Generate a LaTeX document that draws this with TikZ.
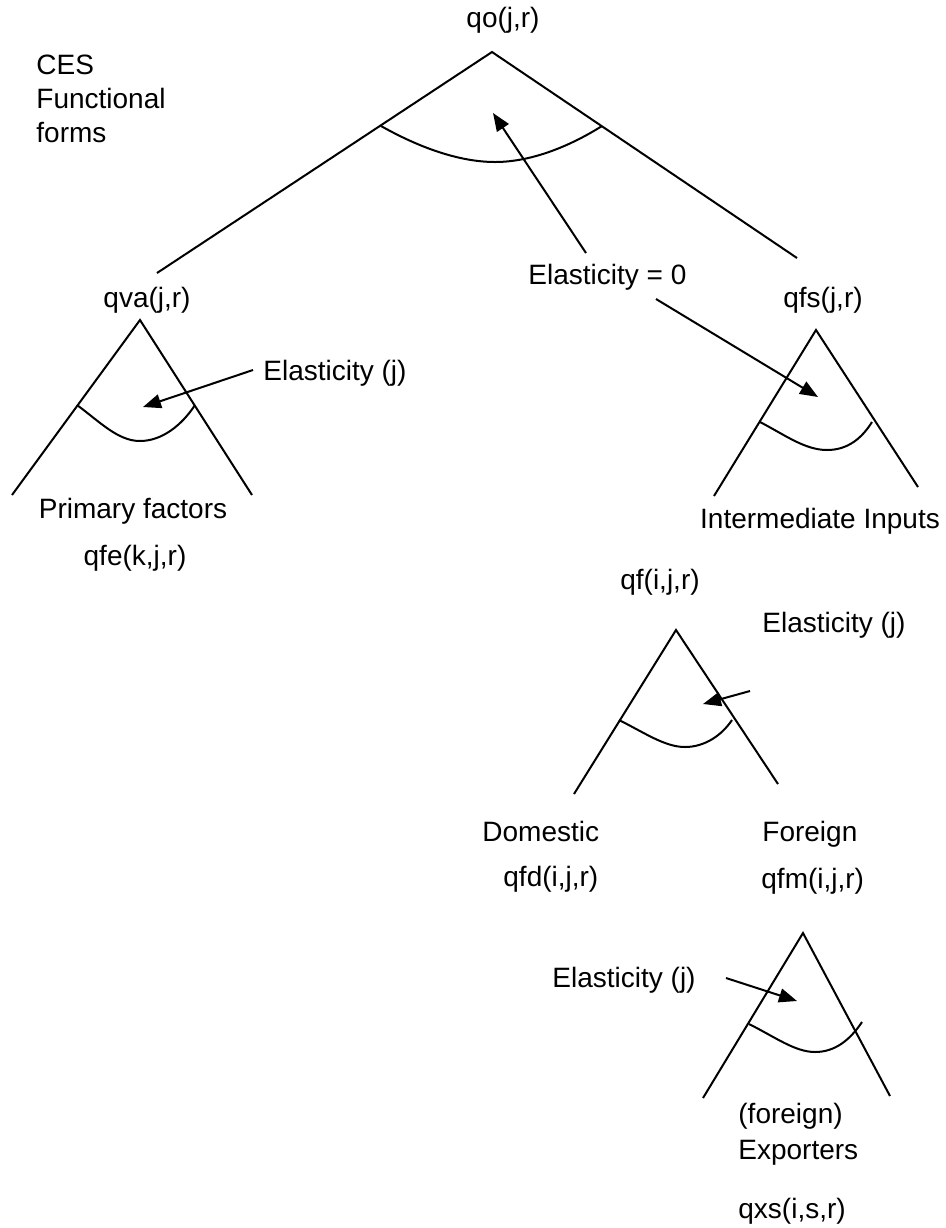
\documentclass[tikz,border=0pt]{standalone}
\usepackage{fontspec}
\setmainfont{Liberation Sans}
\usetikzlibrary{arrows.meta}
\begin{document}
\begin{tikzpicture}[x=0.5pt,y=-0.5pt,
  lbl/.style={inner sep=0pt,font=\fontsize{14pt}{17pt}\selectfont},
  tri/.style={line width=1pt,line join=miter},
  arc/.style={line width=1pt},
  arr/.style={line width=1pt,-{Triangle[length=9pt,width=7pt]}}]
\useasboundingbox (0,0) rectangle (946,1228);
% labels
\node[lbl,anchor=base] (qo) at (503,27) {qo(j,r)};
\node[lbl,anchor=base west] (ces1) at (36,74) {CES};
\node[lbl,anchor=base west] (ces2) at (36,108) {Functional};
\node[lbl,anchor=base west] (ces3) at (36,142) {forms};
\node[lbl,anchor=base west] (e0) at (528,284) {Elasticity = 0};
\node[lbl,anchor=base] (qva) at (147,307) {qva(j,r)};
\node[lbl,anchor=base] (qfs) at (823,307) {qfs(j,r)};
\node[lbl,anchor=base west] (ej1) at (263,380) {Elasticity (j)};
\node[lbl,anchor=base] (pf) at (133,518) {Primary factors};
\node[lbl,anchor=base] (qfe) at (135,565) {qfe(k,j,r)};
\node[lbl,anchor=base] (ii) at (820,528) {Intermediate Inputs};
\node[lbl,anchor=base] (qf) at (660,589) {qf(i,j,r)};
\node[lbl,anchor=base west] (ej2) at (762,632) {Elasticity (j)};
\node[lbl,anchor=base west] (dom) at (482,841) {Domestic};
\node[lbl,anchor=base west] (for) at (762,841) {Foreign};
\node[lbl,anchor=base west] (qfd) at (503,886) {qfd(i,j,r)};
\node[lbl,anchor=base west] (qfm) at (761,888) {qfm(i,j,r)};
\node[lbl,anchor=base east] (ej3) at (696,987) {Elasticity (j)};
\node[lbl,anchor=base west] (fgn) at (738,1123) {(foreign)};
\node[lbl,anchor=base west] (exp) at (738,1159) {Exporters};
\node[lbl,anchor=base west] (qxs) at (738,1218) {qxs(i,s,r)};
% triangles
\coordinate (t0a) at (492,52); \coordinate (t0l) at (157,273); \coordinate (t0r) at (797,258);
\draw[tri] (t0l) -- (t0a) -- (t0r);
\draw[arc] (381,126) .. controls (420,148) and (460,162) .. (495,162)
                     .. controls (535,162) and (575,143) .. (602,126);
\coordinate (t1a) at (140,320); \coordinate (t1l) at (12,495); \coordinate (t1r) at (252,495);
\draw[tri] (t1l) -- (t1a) -- (t1r);
\draw[arc] (77,405) .. controls (100,422) and (118,441) .. (140,441)
                    .. controls (162,441) and (182,425) .. (195,405);
\coordinate (t2a) at (816,330); \coordinate (t2l) at (714,496); \coordinate (t2r) at (918,487);
\draw[tri] (t2l) -- (t2a) -- (t2r);
\draw[arc] (760,422) .. controls (785,435) and (805,450) .. (827,450)
                     .. controls (848,450) and (862,438) .. (872,422);
\coordinate (t3a) at (676,630); \coordinate (t3l) at (574,794); \coordinate (t3r) at (778,784);
\draw[tri] (t3l) -- (t3a) -- (t3r);
\draw[arc] (619,720) .. controls (645,733) and (665,747) .. (685,747)
                     .. controls (705,747) and (722,735) .. (732,720);
\coordinate (t4a) at (803,933); \coordinate (t4l) at (703,1098); \coordinate (t4r) at (890,1096);
\draw[tri] (t4l) -- (t4a) -- (t4r);
\draw[arc] (749,1024) .. controls (775,1037) and (795,1052) .. (815,1052)
                      .. controls (835,1052) and (850,1040) .. (862,1022);
% arrows
\coordinate (a1s) at (586,253); \coordinate (a1e) at (493,113);
\coordinate (a2s) at (656,299); \coordinate (a2e) at (818,397);
\coordinate (a3s) at (253,370); \coordinate (a3e) at (143,407);
\coordinate (a4s) at (750,691); \coordinate (a4e) at (703,704);
\coordinate (a5s) at (726,978); \coordinate (a5e) at (797,1001);
\draw[arr] (a1s) -- (a1e);
\draw[arr] (a2s) -- (a2e);
\draw[arr] (a3s) -- (a3e);
\draw[arr] (a4s) -- (a4e);
\draw[arr] (a5s) -- (a5e);
\end{tikzpicture}
\end{document}
